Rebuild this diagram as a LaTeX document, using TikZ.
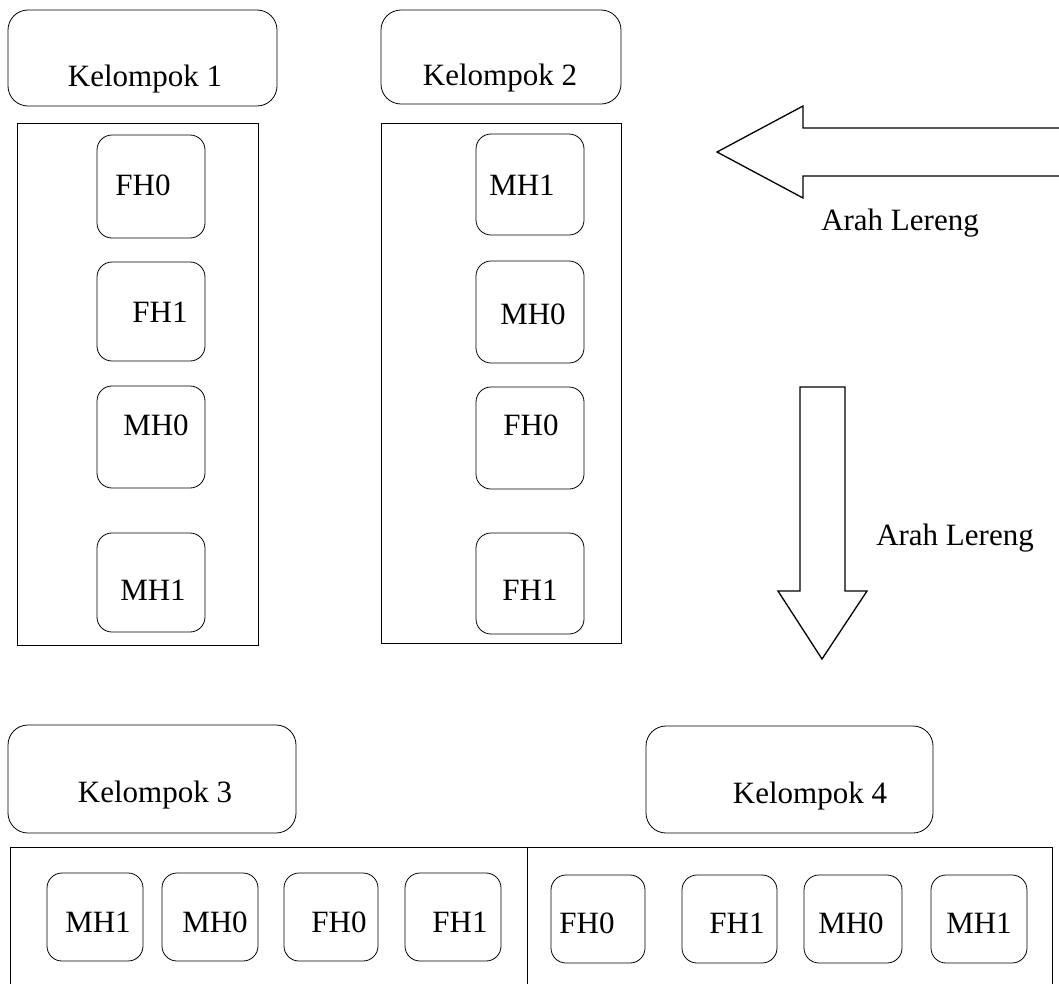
\documentclass[tikz,border=0pt]{standalone}
\usepackage{fontspec}
\setmainfont{Liberation Serif}
\begin{document}
\begin{tikzpicture}[x=1pt,y=-1pt,
  line width=0.8pt,
  rbox/.style={draw, rounded corners=15pt, inner sep=0pt},
  kbox/.style={draw, rounded corners=20pt, inner sep=0pt},
  frame/.style={draw, inner sep=0pt},
  lbl/.style={anchor=base, inner sep=0pt, font=\fontsize{31}{37}\selectfont},
  arr/.style={draw, line width=1.3pt, line join=miter}]
\useasboundingbox (0,0) rectangle (1059,983);
\clip (0,0) rectangle (1059,983);
% group headers
\node[kbox, minimum width=269pt, minimum height=96pt] (k1) at (142.5,58) {};
\node[lbl] (k1t) at (145,86) {Kelompok 1};
\node[kbox, minimum width=240pt, minimum height=94pt] (k2) at (501,57) {};
\node[lbl] (k2t) at (500,85) {Kelompok 2};
\node[kbox, minimum width=288pt, minimum height=108pt] (k3) at (152,779) {};
\node[lbl] (k3t) at (155,802) {Kelompok 3};
\node[kbox, minimum width=287pt, minimum height=107pt] (k4) at (789.5,779.5) {};
\node[lbl] (k4t) at (810,803) {Kelompok 4};
% column frames
\node[frame, minimum width=241pt, minimum height=522pt] (f1) at (137.5,384) {};
\node[frame, minimum width=240pt, minimum height=520pt] (f2) at (501,383) {};
% left column
\node[rbox, minimum width=108pt, minimum height=103pt] (a1) at (151,186.5) {};
\node[lbl] (a1t) at (143,195) {FH0};
\node[rbox, minimum width=108pt, minimum height=99pt] (a2) at (151,311.5) {};
\node[lbl] (a2t) at (160,322) {FH1};
\node[rbox, minimum width=108pt, minimum height=102pt] (a3) at (151,437) {};
\node[lbl] (a3t) at (156,435) {MH0};
\node[rbox, minimum width=108pt, minimum height=99pt] (a4) at (151,582.5) {};
\node[lbl] (a4t) at (153,600) {MH1};
% right column
\node[rbox, minimum width=108pt, minimum height=101pt] (b1) at (530,184.5) {};
\node[lbl] (b1t) at (522,195) {MH1};
\node[rbox, minimum width=108pt, minimum height=102pt] (b2) at (530,312) {};
\node[lbl] (b2t) at (533,324) {MH0};
\node[rbox, minimum width=108pt, minimum height=102pt] (b3) at (530,438) {};
\node[lbl] (b3t) at (531,435) {FH0};
\node[rbox, minimum width=108pt, minimum height=101pt] (b4) at (530,583.5) {};
\node[lbl] (b4t) at (530,600) {FH1};
% bottom frame
\coordinate (bl) at (10,995);
\coordinate (tl) at (10,847);
\coordinate (tr) at (1052,847);
\coordinate (br) at (1052,995);
\coordinate (dt) at (527,847);
\coordinate (db) at (527,995);
\draw (bl) -- (tl) -- (tr) -- (br);
\draw (dt) -- (db);
% bottom row
\node[rbox, minimum width=96pt, minimum height=88pt] (c1) at (95,917) {};
\node[lbl] (c1t) at (98,932) {MH1};
\node[rbox, minimum width=96pt, minimum height=88pt] (c2) at (210,917) {};
\node[lbl] (c2t) at (215,932) {MH0};
\node[rbox, minimum width=94pt, minimum height=88pt] (c3) at (331,917) {};
\node[lbl] (c3t) at (339,932) {FH0};
\node[rbox, minimum width=96pt, minimum height=88pt] (c4) at (453,917) {};
\node[lbl] (c4t) at (460,932) {FH1};
\node[rbox, minimum width=94pt, minimum height=88pt] (d1) at (598,919) {};
\node[lbl] (d1t) at (587,933) {FH0};
\node[rbox, minimum width=95pt, minimum height=88pt] (d2) at (729.5,919) {};
\node[lbl] (d2t) at (737,933) {FH1};
\node[rbox, minimum width=98pt, minimum height=88pt] (d3) at (853,919) {};
\node[lbl] (d3t) at (851,933) {MH0};
\node[rbox, minimum width=96pt, minimum height=88pt] (d4) at (979,919) {};
\node[lbl] (d4t) at (979,933) {MH1};
% left arrow
\draw[arr] (1065,128) -- (803,128) -- (803,106) -- (717,152) -- (803,198) -- (803,176) -- (1065,176);
\node[lbl] (ar1) at (900,230) {Arah Lereng};
% down arrow
\draw[arr] (800,387) -- (845,387) -- (845,591) -- (867,591) -- (822,659) -- (778,591) -- (800,591) -- cycle;
\node[lbl] (ar2) at (955,545) {Arah Lereng};
\end{tikzpicture}
\end{document}
